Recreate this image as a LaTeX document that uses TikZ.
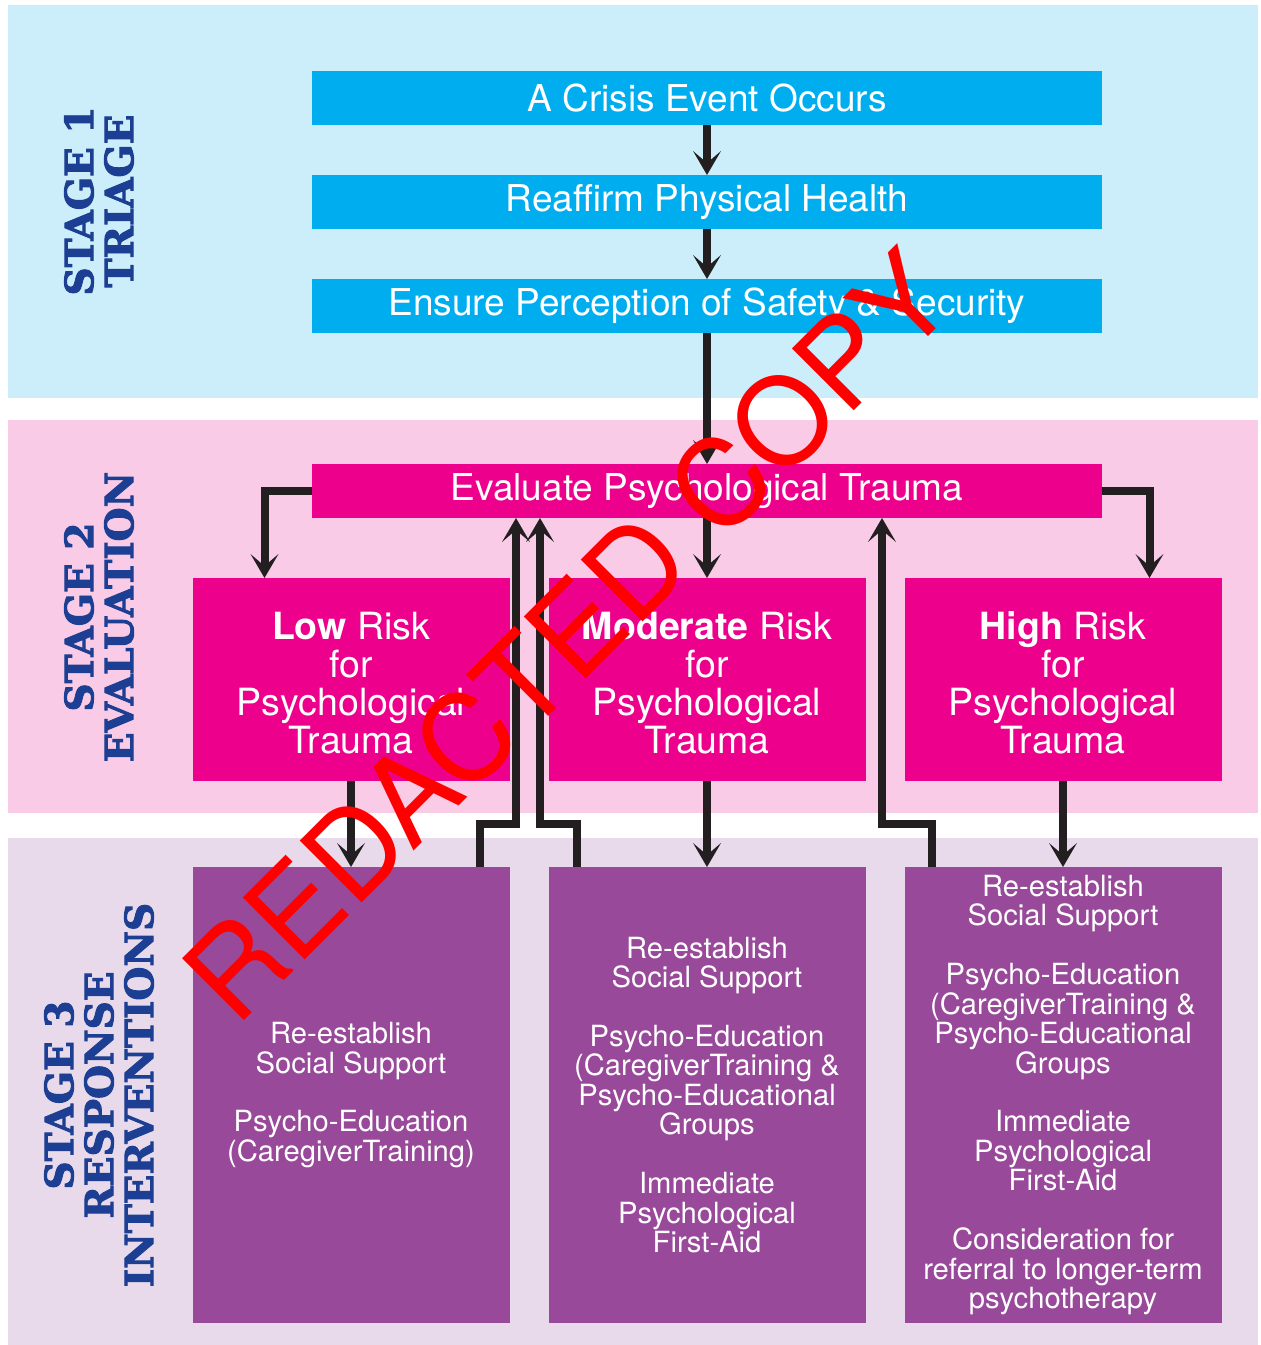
\documentclass[tikz,border=0pt]{standalone}
\usepackage{fontspec}
\setmainfont{TeX Gyre Heros}
\newfontfamily\stagefont{DejaVu Serif}[BoldFeatures={FakeBold=2.5}]
\usetikzlibrary{arrows.meta,positioning}

\definecolor{triagebg}{HTML}{CCEEFA}
\definecolor{evalbg}{HTML}{F9CBE6}
\definecolor{responsebg}{HTML}{E8DAEA}
\definecolor{triagebox}{HTML}{00AEEF}
\definecolor{evalbox}{HTML}{EC008C}
\definecolor{responsebox}{HTML}{98499A}
\definecolor{stageblue}{HTML}{1D3F93}
\definecolor{arrowgrey}{HTML}{231F20}

\begin{document}
\begin{tikzpicture}[
  x=0.5pt, y=-0.5pt,
  node distance=25pt,
  triage/.style={fill=triagebox, text=white, minimum width=395pt,
    minimum height=27pt, inner sep=0pt, outer sep=0pt,
    font=\fontsize{18.5}{19}\selectfont},
  evaluation/.style={triage, fill=evalbox},
  risk/.style={fill=evalbox, text=white, align=center, minimum width=158.5pt,
    minimum height=101.5pt, inner sep=0pt, outer sep=0pt,
    font=\fontsize{18.75}{19}\selectfont},
  response/.style={fill=responsebox, text=white, align=center,
    minimum width=158.5pt, minimum height=228pt, inner sep=0pt, outer sep=0pt,
    font=\fontsize{14.6}{14.75}\selectfont},
  stage/.style={rotate=90, align=center, text=stageblue,
    font=\stagefont\bfseries\fontsize{19.5}{20}\selectfont},
  watermark/.style={rotate=45, anchor=base, text=red, inner sep=0pt,
    font=\fontsize{60}{60}\selectfont},
  arrow/.style={-{Stealth[length=12pt, width=14pt, inset=6pt, line width=0pt]},
    line width=4pt, draw=arrowgrey}
]
\useasboundingbox (0,0) rectangle (1261,1345);
% stage panels
\fill[triagebg] (8,5) rectangle (1258,398);
\fill[evalbg] (8,420) rectangle (1258,813);
\fill[responsebg] (8,838) rectangle (1258,1345);

\node[stage] (stage1) at (99,201) {STAGE 1\\TRIAGE};
\node[stage] (stage2) at (99,617) {STAGE 2\\EVALUATION};
\node[stage] (stage3) at (99,1095) {STAGE 3\\RESPONSE\\INTERVENTIONS};

% stage 1
\node[triage] (crisis) at (707,98) {A Crisis Event Occurs};
\node[triage, below=of crisis] (health) {Reaffirm Physical Health};
\node[triage, below=of health] (safety) {Ensure Perception of Safety \& Security};

% stage 2
\node[evaluation, below=65.5pt of safety] (evaluate) {Evaluate Psychological Trauma};
\node[risk, below=30pt of evaluate] (moderate) {\rule{0pt}{17.5pt}\textbf{Moderate} Risk\\for\\Psychological\\Trauma};
\node[risk, left=19.5pt of moderate] (low) {\rule{0pt}{17.5pt}\textbf{Low} Risk\\for\\Psychological\\Trauma};
\node[risk, right=19.5pt of moderate] (high) {\rule{0pt}{17.5pt}\textbf{High} Risk\\for\\Psychological\\Trauma};

% stage 3
\node[response, below=43pt of low] (lowplan) {Re-establish\\Social Support\\[1em]
  Psycho-Education\\(CaregiverTraining)};
\node[response, below=43pt of moderate] (moderateplan) {Re-establish\\Social Support\\[1em]
  Psycho-Education\\(CaregiverTraining \&\\Psycho-Educational\\Groups\\[1em]
  Immediate\\Psychological\\First-Aid};
\node[response, below=43pt of high] (highplan) {Re-establish\\Social Support\\[1em]
  Psycho-Education\\(CaregiverTraining \&\\Psycho-Educational\\Groups\\[1em]
  Immediate\\Psychological\\First-Aid\\[1em]
  Consideration for\\referral to longer-term\\psychotherapy};

\draw[arrow] (crisis) -- (health);
\draw[arrow] (health) -- (safety);
\draw[arrow] (safety) -- (evaluate);
\draw[arrow] (evaluate.west) -| ([xshift=36pt]low.north west);
\draw[arrow] (evaluate) -- (moderate);
\draw[arrow] (evaluate.east) -| ([xshift=-36pt]high.north east);
\draw[arrow] (low) -- (lowplan);
\draw[arrow] (moderate) -- (moderateplan);
\draw[arrow] (high) -- (highplan);
% back to evaluation
\draw[arrow] ([xshift=-15pt]lowplan.north east) -- ++(0,-43)
  -| ([xshift=-95.5pt]evaluate.south);
\draw[arrow] ([xshift=14pt]moderateplan.north west) -- ++(0,-43)
  -| ([xshift=-83.5pt]evaluate.south);
\draw[arrow] ([xshift=13.5pt]highplan.north west) -- ++(0,-43)
  -| ([xshift=87.5pt]evaluate.south);

\node[watermark] (redacted) at (598,667) {REDACTED COPY};
\end{tikzpicture}
\end{document}
